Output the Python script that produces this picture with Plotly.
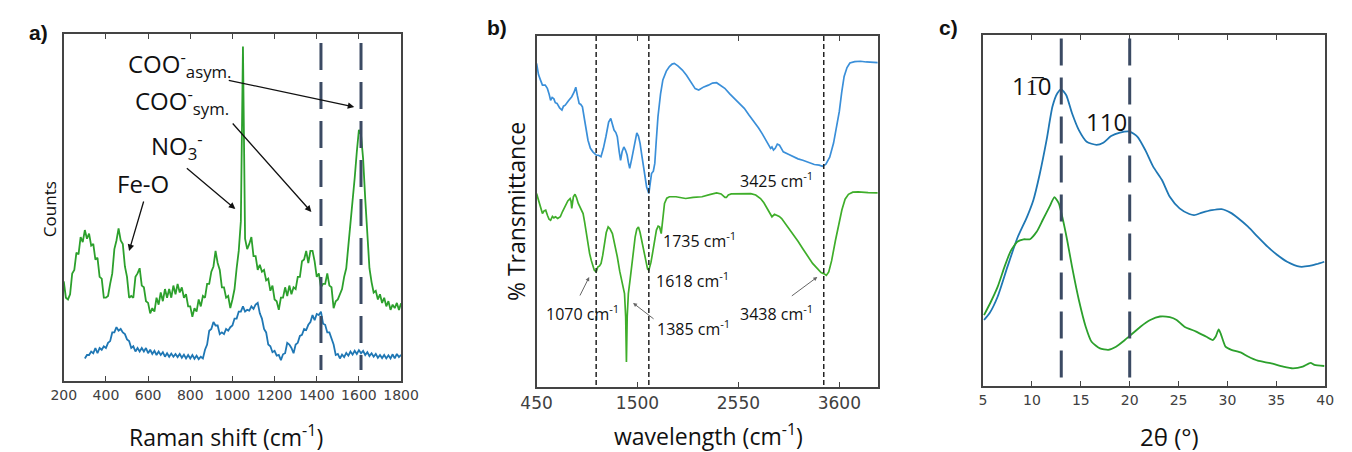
import plotly.graph_objects as go

# ---------------- a) Raman spectra ----------------
raman_shift_green = list(range(200, 1810, 10))
raman_green = [
    28.7, 24.0, 23.5, 25.0, 31.0, 32.0, 37.0, 36.5, 41.5, 40.0,
    43.5, 41.0, 42.5, 39.0, 39.5, 35.0, 35.5, 30.0, 29.5, 24.0,
    24.0, 24.5, 28.0, 31.0, 38.0, 40.5, 44.0, 40.5, 39.5, 33.0,
    30.0, 24.0, 24.5, 24.0, 30.0, 31.0, 32.5, 27.5, 27.0, 23.0,
    22.5, 19.5, 21.0, 20.0, 24.0, 22.0, 25.5, 23.0, 26.5, 24.0,
    26.5, 24.0, 27.5, 25.0, 28.0, 25.5, 27.0, 24.0, 25.0, 21.5,
    21.5, 18.5, 21.0, 20.0, 23.5, 21.5, 24.5, 24.0, 28.0, 28.0,
    31.5, 33.0, 37.5, 34.0, 32.0, 27.0, 27.0, 24.0, 24.5, 21.0,
    23.5, 26.5, 32.5, 37.5, 46.0, 96.4, 41.0, 38.0, 39.5, 41.5,
    36.0, 36.0, 32.0, 33.5, 31.5, 32.0, 29.0, 29.5, 26.0, 27.5,
    23.5, 23.0, 20.5, 24.0, 24.0, 27.0, 24.5, 27.5, 25.0, 27.0,
    26.5, 30.0, 30.0, 34.5, 35.0, 37.5, 34.0, 37.5, 37.5, 34.5,
    30.0, 31.0, 27.0, 28.0, 28.0, 31.0, 27.5, 27.0, 21.0, 23.0,
    23.5, 25.0, 26.5, 30.0, 32.5, 39.0, 45.0, 52.0, 58.5, 66.0,
    72.4, 71.0, 64.0, 52.5, 41.5, 32.5, 28.5, 25.5, 26.0, 23.5,
    25.0, 22.5, 24.0, 21.5, 23.0, 20.5, 22.0, 21.0, 22.5, 20.5,
    22.4,
]
raman_shift_blue = list(range(300, 1810, 10))
raman_blue = [
    6.5, 7.5, 7.5, 8.5, 8.0, 9.5, 8.0, 9.5, 9.0, 10.0,
    9.5, 11.0, 11.5, 14.0, 14.0, 15.5, 14.5, 15.0, 14.0, 13.5,
    12.0, 11.5, 9.5, 10.0, 8.5, 9.5, 8.5, 9.5, 8.5, 9.5,
    8.0, 9.0, 7.8, 8.7, 7.5, 8.5, 7.5, 8.3, 7.0, 8.0,
    7.0, 7.9, 7.0, 7.8, 6.9, 7.8, 6.7, 7.6, 6.5, 7.5,
    6.5, 7.5, 6.4, 7.3, 6.3, 7.0, 6.5, 9.0, 10.5, 14.5,
    15.0, 17.0, 16.0, 16.0, 13.5, 14.0, 13.5, 15.0, 14.5, 15.5,
    16.0, 18.0, 18.0, 20.0, 20.0, 21.5, 20.0, 20.5, 20.3, 21.5,
    20.8, 22.0, 22.5, 19.5, 18.0, 15.0, 14.0, 10.5, 10.0, 8.3,
    8.7, 7.3, 7.5, 6.0, 7.7, 8.0, 11.0, 10.5, 9.5, 8.0,
    10.5, 11.0, 13.0, 13.3, 15.0, 14.7, 16.2, 17.0, 19.0, 17.5,
    19.3, 19.0, 20.0, 16.5, 16.2, 14.0, 14.0, 12.0, 10.5, 7.5,
    7.8, 6.5, 7.6, 6.9, 8.1, 7.3, 8.5, 7.6, 8.7, 7.8,
    8.9, 8.0, 8.7, 7.5, 8.3, 7.2, 8.0, 7.0, 7.8, 6.7,
    7.5, 6.6, 7.5, 6.5, 7.4, 6.5, 7.7, 6.5, 7.8, 6.9,
    7.5,
]
raman_marker_lines = [1420, 1610]
raman_ticks = [200, 400, 600, 800, 1000, 1200, 1400, 1600, 1800]

# ---------------- b) FTIR spectra ----------------
ftir_wn_blue = [
    450, 470, 490, 511, 540, 562, 580, 596, 612, 630, 645, 663, 690, 714, 730,
    748, 780, 816, 840, 858, 875, 893, 910, 927, 950, 970, 985, 1010, 1036,
    1070, 1095, 1120, 1145, 1171, 1200, 1222, 1240, 1256, 1275, 1290, 1310,
    1324, 1340, 1358, 1375, 1392, 1405, 1419, 1440, 1459, 1480, 1493, 1510,
    1527, 1545, 1561, 1580, 1595, 1618, 1635, 1646, 1665, 1680, 1695, 1713,
    1740, 1764, 1800, 1832, 1860, 1883, 1920, 1967, 2010, 2052, 2100, 2137,
    2190, 2238, 2280, 2323, 2365, 2408, 2460, 2509, 2560, 2611, 2660, 2713,
    2760, 2797, 2830, 2865, 2885, 2899, 2915, 2933, 2955, 2977, 3000, 3017,
    3070, 3119, 3170, 3220, 3280, 3340, 3390, 3425, 3460, 3500, 3540, 3570,
    3600, 3625, 3650, 3680, 3710, 3760, 3820, 3880, 3940, 4000,
]
ftir_blue = [
    92.2, 89.0, 87.5, 86.0, 86.0, 85.1, 83.5, 81.7, 82.5, 82.1, 81.0, 80.8, 79.5, 78.9, 80.0,
    80.3, 81.5, 82.7, 84.0, 85.4, 83.0, 80.8, 80.5, 79.8, 76.0, 72.0, 70.3, 68.0, 67.0,
    66.1, 66.0, 65.6, 68.0, 71.3, 75.5, 76.5, 75.0, 73.2, 72.5, 71.3, 67.0,
    64.6, 67.0, 68.4, 67.5, 66.1, 64.0, 62.3, 65.0, 67.5, 71.0, 72.4, 71.5,
    69.4, 66.0, 62.7, 59.5, 57.0, 55.1, 58.0, 60.8, 61.5, 63.7, 70.0, 77.0,
    83.5, 87.5, 90.0, 91.3, 92.0, 92.2, 91.5, 90.3, 88.8, 87.0, 85.0, 84.6,
    85.5, 86.0, 86.6, 86.7, 86.0, 85.1, 83.5, 82.2, 80.8, 79.4, 77.5, 75.6,
    73.8, 72.2, 70.5, 68.9, 68.0, 68.4, 67.5, 68.0, 69.2, 68.9, 67.8, 67.0,
    66.3, 65.6, 65.0, 64.6, 64.0, 63.4, 63.2, 62.9, 63.5, 65.5, 69.5, 73.5,
    78.5, 84.0, 88.5, 91.0, 92.3, 92.7, 92.8, 92.6, 92.5, 92.4,
]
ftir_wn_green = [
    450, 465, 477, 495, 511, 528, 545, 565, 580, 596, 615, 630, 647, 670, 697,
    720, 748, 775, 799, 808, 816, 824, 833, 850, 865, 884, 905, 934, 950, 968,
    985, 1002, 1020, 1036, 1050, 1070, 1087, 1105, 1121, 1138, 1155, 1175,
    1195, 1215, 1239, 1265, 1290, 1315, 1341, 1365, 1377, 1385, 1393, 1405,
    1425, 1442, 1460, 1476, 1493, 1510, 1527, 1544, 1566, 1588, 1605, 1618,
    1640, 1656, 1675, 1697, 1715, 1730, 1747, 1765, 1781, 1805, 1832, 1900,
    2001, 2080, 2171, 2250, 2323, 2370, 2391, 2410, 2425, 2445, 2476, 2580,
    2679, 2730, 2780, 2815, 2848, 2875, 2899, 2925, 2950, 2975, 3000, 3060,
    3119, 3170, 3220, 3270, 3322, 3370, 3410, 3438, 3465, 3490, 3520, 3560,
    3595, 3627, 3660, 3695, 3740, 3796, 3900, 4000,
]
ftir_green = [
    55.1, 53.5, 52.3, 50.5, 49.4, 50.2, 50.4, 48.8, 47.8, 47.5, 48.6, 48.2, 48.5, 48.0, 48.5,
    50.0, 51.8, 53.0, 53.7, 53.0, 50.9, 53.5, 54.2, 54.9, 54.0, 52.3, 51.0, 49.4, 47.0, 43.7,
    40.5, 38.0, 36.0, 34.2, 33.3, 32.8, 34.2, 34.5, 35.2, 37.5, 40.9, 44.0,
    45.6, 45.0, 43.7, 40.5, 37.1, 33.0, 29.5, 26.6, 20.0, 7.1, 20.0, 26.6,
    31.0, 35.2, 39.5, 42.8, 45.0, 45.6, 44.0, 41.8, 38.0, 35.2, 33.6, 33.3,
    35.5, 38.0, 41.5, 44.7, 45.8, 45.6, 43.7, 48.0, 52.3, 53.8, 54.2, 54.2,
    53.7, 54.0, 54.2, 54.8, 55.3, 55.0, 54.6, 54.0, 54.0, 54.7, 55.0, 55.1,
    55.1, 54.7, 53.7, 52.5, 50.9, 49.5, 48.5, 49.2, 49.0, 48.6, 48.0, 45.8,
    43.7, 41.5, 39.4, 37.3, 35.2, 33.8, 32.6, 32.3, 31.8, 32.8, 36.0, 41.8,
    46.5, 50.5, 53.5, 54.9, 55.5, 55.6, 55.4, 55.3,
]
ftir_marker_lines = [1070, 1618, 3438]
ftir_ticks = [450, 1500, 2550, 3600]

# ---------------- c) XRD patterns ----------------
two_theta_blue = [
    5.1, 5.66, 6.5, 7.5, 8.5, 9.5, 10.15, 10.8, 11.5, 12.1, 12.6, 13.0, 13.5,
    14.1, 14.8, 15.6, 16.6, 17.3, 18.1, 19.0, 20.0, 20.8, 21.6, 22.4, 23.3,
    24.1, 25.1, 26.1, 26.6, 27.4, 28.4, 29.4, 30.3, 31.1, 32.1, 33.1, 34.1,
    35.1, 36.1, 37.4, 38.4, 39.1, 39.9,
]
xrd_blue = [
    18.8, 20.7, 25.5, 34.0, 42.1, 48.2, 53.0, 60.4, 70.1, 79.6, 83.4, 84.5, 82.9,
    77.7, 72.9, 69.6, 68.7, 69.3, 71.2, 72.2, 72.5, 71.0, 67.2, 62.5, 58.7,
    53.9, 50.6, 49.0, 48.7, 49.4, 50.1, 50.4, 49.4, 47.8, 45.4, 42.5, 39.7,
    37.3, 35.4, 34.0, 34.2, 34.7, 35.4,
]
two_theta_green = [
    5.1, 5.8, 6.5, 7.2, 7.8, 8.5, 9.15, 9.8, 10.5, 11.1, 11.8, 12.3, 12.75,
    13.1, 13.6, 14.1, 14.8, 15.5, 16.1, 16.96, 17.8, 18.6, 19.5, 20.1, 21.1,
    22.1, 23.1, 24.1, 24.8, 25.6, 26.8, 27.8, 28.5, 28.8, 29.1, 29.3, 29.8,
    30.4, 31.4, 32.1, 33.1, 34.4, 35.7, 36.7, 37.7, 38.5, 38.9, 39.9,
]
xrd_green = [
    20.2, 24.0, 28.3, 34.0, 38.3, 41.1, 41.8, 41.8, 44.0, 47.3, 51.1, 53.8, 52.0,
    48.2, 41.6, 34.0, 24.5, 16.9, 12.6, 10.7, 10.3, 11.2, 13.1, 14.5, 16.9,
    18.8, 19.8, 19.6, 18.8, 16.9, 15.5, 14.1, 13.1, 14.1, 16.1, 15.0, 11.2,
    10.3, 9.5, 8.4, 7.2, 6.5, 5.5, 5.0, 5.5, 6.6, 6.0, 5.7,
]
xrd_marker_lines = [13, 20]
xrd_ticks = [5, 10, 15, 20, 25, 30, 35, 40]

# ---------------- styling ----------------
W, H = 1352, 452
GREEN_A, BLUE_A = "#2ca02c", "#1f77b4"
GREEN_B, BLUE_B = "#3fae2a", "#3a8fd9"
SLATE = "#3b4a63"
AXIS = "#444444"
TICKFONT = dict(family="DejaVu Sans", size=14, color="#404040")
LABEL_FONT = "Open Sans"


def px(x):
    return x / W


def py(y):
    return 1 - y / H


fig = go.Figure()

fig.add_trace(go.Scatter(x=raman_shift_green, y=raman_green, mode="lines",
                         line=dict(color=GREEN_A, width=1.8), xaxis="x", yaxis="y"))
fig.add_trace(go.Scatter(x=raman_shift_blue, y=raman_blue, mode="lines",
                         line=dict(color=BLUE_A, width=1.8), xaxis="x", yaxis="y"))
fig.add_trace(go.Scatter(x=ftir_wn_blue, y=ftir_blue, mode="lines",
                         line=dict(color=BLUE_B, width=1.7), xaxis="x2", yaxis="y2"))
fig.add_trace(go.Scatter(x=ftir_wn_green, y=ftir_green, mode="lines",
                         line=dict(color=GREEN_B, width=1.7), xaxis="x2", yaxis="y2"))
fig.add_trace(go.Scatter(x=two_theta_blue, y=xrd_blue, mode="lines",
                         line=dict(color=BLUE_A, width=1.8, shape="spline", smoothing=0.6),
                         xaxis="x3", yaxis="y3"))
fig.add_trace(go.Scatter(x=two_theta_green, y=xrd_green, mode="lines",
                         line=dict(color=GREEN_A, width=1.8, shape="spline", smoothing=0.5),
                         xaxis="x3", yaxis="y3"))

shapes = []
for v in raman_marker_lines:
    shapes.append(dict(type="line", xref="x", yref="y", x0=v, x1=v, y0=97.4, y1=3.2,
                       line=dict(color=SLATE, width=3, dash="27px,12px"), layer="above"))
for v in ftir_marker_lines:
    shapes.append(dict(type="line", xref="x2", yref="y2", x0=v, x1=v, y0=100, y1=0,
                       line=dict(color="#222222", width=1.5, dash="5px,3px"), layer="above"))
for v in xrd_marker_lines:
    shapes.append(dict(type="line", xref="x3", yref="y3", x0=v, x1=v, y0=99, y1=1.5,
                       line=dict(color=SLATE, width=3, dash="27px,12px"), layer="above"))


def xaxis(domain, rng, ticks, font=TICKFONT):
    return dict(domain=domain, range=rng, tickvals=ticks, ticks="inside", ticklen=5,
                tickcolor=AXIS, tickwidth=1.2, showline=True, linecolor=AXIS, linewidth=1.8,
                mirror="ticks", showgrid=False, zeroline=False, tickfont=font,
                fixedrange=True)


def yaxis(domain):
    return dict(domain=domain, range=[0, 100], showticklabels=False, ticks="",
                showline=True, linecolor=AXIS, linewidth=1.8, mirror=True,
                showgrid=False, zeroline=False, fixedrange=True)


fig.update_layout(
    width=W, height=H, margin=dict(l=0, r=0, t=0, b=0),
    paper_bgcolor="white", plot_bgcolor="white", showlegend=False,
    xaxis=xaxis([px(49), px(395)], [200, 1800], raman_ticks),
    yaxis=yaxis([py(381), py(34)]),
    xaxis2=xaxis([px(534), px(884)], [450, 4000], ftir_ticks,
                 dict(family="DejaVu Sans", size=17, color="#404040")),
    yaxis2=dict(yaxis([py(387), py(36)]), anchor="x2"),
    xaxis3=xaxis([px(992), px(1343)], [5, 40], xrd_ticks),
    yaxis3=dict(yaxis([py(386), py(35)]), anchor="x3"),
    shapes=shapes,
)
fig.layout.xaxis2.anchor = "y2"
fig.layout.xaxis3.anchor = "y3"

ann = []


def text(x, y, s, size, xanchor="left", color="#111111", family=LABEL_FONT, angle=0):
    ann.append(dict(x=px(x), y=py(y), xref="paper", yref="paper", text=s, showarrow=False,
                    xanchor=xanchor, yanchor="middle", textangle=angle, borderpad=0,
                    font=dict(family=family, size=size, color=color)))


def arrow(x0, y0, x1, y1, color="#111111", width=1.3, size=1.0):
    ann.append(dict(x=px(x1), y=py(y1), xref="paper", yref="paper", text="",
                    showarrow=True, ax=x0 - x1, ay=y0 - y1, axref="pixel", ayref="pixel",
                    arrowhead=2, arrowsize=size, arrowwidth=width, arrowcolor=color))


# panel letters
text(12, 32, "<b>a)</b>", 21, family="Liberation Sans")
text(482, 27, "<b>b)</b>", 21, family="Liberation Sans")
text(946, 27, "<b>c)</b>", 21, family="Liberation Sans")

# a) labels
text(114, 64, "COO<sup>-</sup><sub>asym.</sub>", 24)
text(121, 101, "COO<sup>-</sup><sub>sym.</sub>", 24)
text(137, 146, "NO<sub>3</sub><sup>-</sup>", 24)
text(103, 183, "Fe-O", 24)
arrow(220, 80, 347, 107)
arrow(223, 122, 303, 212)
arrow(175, 167, 225, 209)
arrow(131, 200, 116, 251)
text(215, 436, "Raman shift (cm<sup>-1</sup>)", 23, xanchor="center")
text(34, 209, "Counts", 17, xanchor="center", angle=-90)

# b) labels
text(742, 180, "3425 cm<sup>-1</sup>", 16)
text(663, 240, "1735 cm<sup>-1</sup>", 16)
text(655, 280, "1618 cm<sup>-1</sup>", 16)
text(543, 313, "1070 cm<sup>-1</sup>", 16)
text(656, 328, "1385 cm<sup>-1</sup>", 16)
text(742, 313, "3438 cm<sup>-1</sup>", 16)
arrow(578, 297, 588, 277, color="#666666", width=1, size=0.8)
arrow(655, 320, 633, 303, color="#666666", width=1, size=0.8)
arrow(795, 297, 822, 277, color="#666666", width=1, size=0.8)
text(710, 435, "wavelength (cm<sup>-1</sup>)", 23, xanchor="center")
text(513, 212, "% Transmittance", 23, xanchor="center", angle=-90)

# c) labels
text(1021, 85, "11\u03050", 24)
text(1097, 121, "110", 24)
text(1183, 436, "2\u03b8 (\u00b0)", 24, xanchor="center")

fig.update_layout(annotations=ann)
fig.write_html("out.html")
